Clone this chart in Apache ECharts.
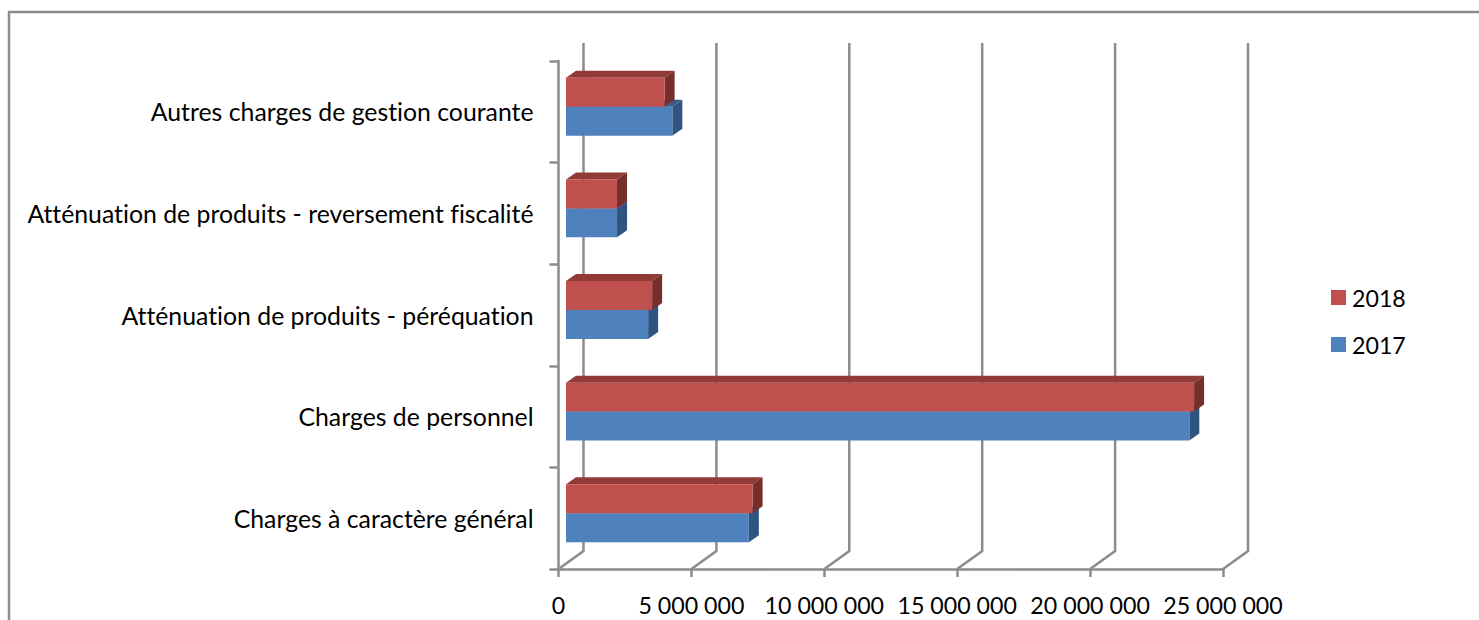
<!DOCTYPE html>
<html>
<head>
<meta charset="utf-8">
<style>
html,body{margin:0;padding:0;background:#fff;overflow:hidden}
#chart{width:1479px;height:620px}
#chart text{font-variant-ligatures:none}
</style>
<script src="https://cdn.jsdelivr.net/npm/echarts@6/dist/echarts.min.js"></script>
</head>
<body>
<div id="chart"></div>
<script>
// Budget lines, listed from the bottom of the chart upward
const categories = [
  'Charges à caractère général',
  'Charges de personnel',
  'Atténuation de produits - péréquation',
  'Atténuation de produits - reversement fiscalité',
  'Autres charges de gestion courante'
];
const values2017 = [6880000, 23450000, 3090000, 1920000, 4000000];
const values2018 = [7020000, 23630000, 3240000, 1920000, 3710000];
const xTicks = [0, 5000000, 10000000, 15000000, 20000000, 25000000];

const GRAY = '#8C8C8C';
const LINE_W = 2.5;
const FONT = 'Lato, Carlito, Calibri, sans-serif';
// Oblique projection of the 3D box
const WALL = [25, -18];       // from the floor front edge to the back wall
const BAR_SHIFT = [7.5, -5];  // bars stand a little behind the front plane
const BAR_DEPTH = [10, -7];   // thickness of each bar
const BAR_FILL = 0.285;       // bar height as a share of a category band

const chart = echarts.init(document.getElementById('chart'), null, {renderer: 'svg'});

function wallLines(params, api) {
  const p = api.coord([api.value(0), 0]);
  const bandH = api.size([0, 1])[1];
  const x = p[0], bottom = p[1] + bandH / 2, top = bottom - bandH * categories.length;
  return {
    type: 'polyline',
    shape: {points: [
      [x, bottom],
      [x + WALL[0], bottom + WALL[1]],
      [x + WALL[0], top + WALL[1]]
    ]},
    style: {stroke: GRAY, lineWidth: LINE_W, fill: null}
  };
}

function bar3d(front, topFace, sideFace, slot) {
  return function (params, api) {
    const p = api.coord([api.value(0), api.value(1)]);
    const o = api.coord([0, api.value(1)]);
    const h = api.size([0, 1])[1] * BAR_FILL;
    const x0 = o[0] + BAR_SHIFT[0], x1 = p[0] + BAR_SHIFT[0];
    // slot 0 sits under the band centre, slot 1 above it
    const y1 = p[1] + BAR_SHIFT[1] + (slot === 0 ? h : 0);
    const y0 = y1 - h;
    const d = BAR_DEPTH;
    return {
      type: 'group',
      children: [
        {type: 'polygon', shape: {points: [[x0, y0], [x1, y0], [x1 + d[0], y0 + d[1]], [x0 + d[0], y0 + d[1]]]}, style: {fill: topFace}},
        {type: 'polygon', shape: {points: [[x1, y0], [x1 + d[0], y0 + d[1]], [x1 + d[0], y1 + d[1]], [x1, y1]]}, style: {fill: sideFace}},
        {type: 'rect', shape: {x: x0, y: y0, width: x1 - x0, height: y1 - y0}, style: {fill: front}}
      ]
    };
  };
}

chart.setOption({
  animation: false,
  backgroundColor: '#fff',
  grid: {left: 558.5, top: 61, width: 664.5, height: 508, containLabel: false},
  graphic: [{
    type: 'rect', silent: true, z: 0,
    shape: {x: 9, y: 12, width: 1600, height: 800},
    style: {fill: null, stroke: GRAY, lineWidth: LINE_W}
  }],
  legend: {
    orient: 'vertical', left: 1331, top: 286, padding: 0,
    data: ['2018', '2017'],
    itemWidth: 15, itemHeight: 15, itemGap: 24, icon: 'rect',
    textStyle: {fontFamily: FONT, fontSize: 23.2, color: '#000', padding: [0, 0, 0, 1]}
  },
  xAxis: {
    type: 'value', min: 0, max: 25000000, interval: 5000000,
    axisLine: {show: true, lineStyle: {color: GRAY, width: LINE_W}},
    axisTick: {show: true, length: 8, lineStyle: {color: GRAY, width: LINE_W}},
    splitLine: {show: false},
    axisLabel: {
      color: '#000', fontFamily: FONT, fontSize: 23.2, margin: 24,
      formatter: v => String(v).replace(/\B(?=(\d{3})+$)/g, ' ')
    }
  },
  yAxis: {
    type: 'category', data: categories,
    axisLine: {show: true, lineStyle: {color: GRAY, width: LINE_W}},
    axisTick: {show: true, length: 9, lineStyle: {color: GRAY, width: LINE_W}},
    axisLabel: {color: '#000', fontFamily: FONT, fontSize: 24.8, margin: 25, verticalAlign: 'middle', lineHeight: 25, padding: [4, 0, 0, 0], interval: 0}
  },
  series: [
    {
      name: 'walls', type: 'custom', silent: true, z: 1,
      coordinateSystem: 'cartesian2d',
      encode: {x: 0, y: 1},
      data: xTicks.map(v => [v, 0]),
      renderItem: wallLines
    },
    {
      name: '2017', type: 'custom', z: 2,
      coordinateSystem: 'cartesian2d',
      itemStyle: {color: '#4F81BD'},
      encode: {x: 0, y: 1},
      data: values2017.map((v, i) => [v, i]),
      renderItem: bar3d('#4F81BD', '#385D8A', '#2F5480', 0)
    },
    {
      name: '2018', type: 'custom', z: 3,
      coordinateSystem: 'cartesian2d',
      itemStyle: {color: '#C0504D'},
      encode: {x: 0, y: 1},
      data: values2018.map((v, i) => [v, i]),
      renderItem: bar3d('#C0504D', '#923A38', '#772F2D', 1)
    }
  ]
});
</script>
</body>
</html>
